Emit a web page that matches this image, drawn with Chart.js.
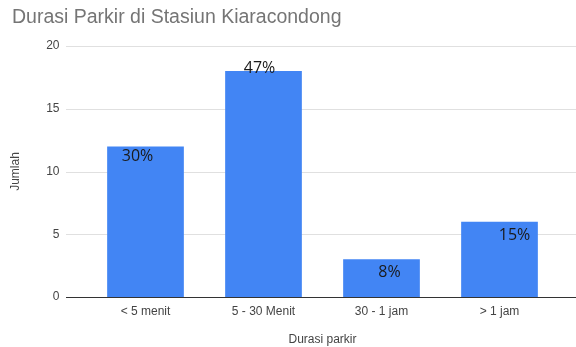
<!DOCTYPE html>
<html>
<head>
<meta charset="utf-8">
<script src="https://cdn.jsdelivr.net/npm/chart.js@4/dist/chart.umd.min.js"></script>
<style>
html,body{margin:0;padding:0;background:#fff;}
#wrap{position:relative;width:576px;height:347px;}
</style>
</head>
<body>
<div id="wrap"><canvas id="c" width="576" height="347"></canvas></div>
<script>
const categories = ["< 5 menit", "5 - 30 Menit", "30 - 1 jam", "> 1 jam"];
const counts = [12, 18, 3, 6];
const percentLabels = ["30%", "47%", "8%", "15%"];
const yTicks = [0, 5, 10, 15, 20];

const gridPlugin = {
  id: 'extGrid',
  beforeDatasetsDraw(chart) {
    const ctx = chart.ctx;
    const y = chart.scales.y;
    const x0 = 66, x1 = chart.width;
    ctx.save();
    yTicks.forEach(v => {
      const py = Math.round(y.getPixelForValue(v)) + 0.5;
      ctx.strokeStyle = v === 0 ? '#333333' : '#e0e0e0';
      ctx.lineWidth = 1;
      ctx.beginPath();
      ctx.moveTo(x0, py);
      ctx.lineTo(x1, py);
      ctx.stroke();
    });
    ctx.restore();
  }
};

const labelPlugin = {
  id: 'pctLabels',
  afterDatasetsDraw(chart, args, opts) {
    const ctx = chart.ctx;
    const meta = chart.getDatasetMeta(0);
    ctx.save();
    ctx.font = '16px "Open Sans", "Noto Sans", sans-serif';
    ctx.fillStyle = '#1a1a1a';
    ctx.textAlign = 'center';
    ctx.textBaseline = 'middle';
    meta.data.forEach((bar, i) => {
      const d = opts.offsets[i];
      ctx.fillText(percentLabels[i], bar.x + d[0], bar.y + d[1]);
    });
    ctx.restore();
  }
};

new Chart(document.getElementById('c'), {
  type: 'bar',
  data: {
    labels: categories,
    datasets: [{
      data: counts,
      backgroundColor: '#4285f4',
      borderWidth: 0,
      categoryPercentage: 1.0,
      barPercentage: 0.65
    }]
  },
  plugins: [gridPlugin, labelPlugin],
  options: {
    responsive: false,
    animation: false,
    layout: { padding: { left: 12, right: 17.5, top: 0, bottom: 0 } },
    plugins: {
      legend: { display: false },
      tooltip: { enabled: false },
      title: {
        display: true,
        text: 'Durasi Parkir di Stasiun Kiaracondong',
        align: 'start',
        color: '#757575',
        font: { family: '"Liberation Sans", Arial, sans-serif', size: 19.5, weight: 'normal' },
        padding: { top: 6, bottom: 16.6 }
      },
      pctLabels: {
        offsets: [[-8, 10], [-4, -3], [8, 13], [15, 14]]
      }
    },
    scales: {
      x: {
        grid: { display: false, drawTicks: false },
        border: { display: false },
        ticks: {
          color: '#444444',
          padding: 7,
          font: { family: '"Liberation Sans", Arial, sans-serif', size: 12 },
          maxRotation: 0
        },
        title: {
          display: true,
          text: 'Durasi parkir',
          color: '#444444',
          font: { family: '"Liberation Sans", Arial, sans-serif', size: 12 },
          padding: { top: 0, bottom: 0 }
        },
        afterFit(s) { s.height = 50; }
      },
      y: {
        min: 0,
        max: 20,
        grid: { display: false, drawTicks: false },
        border: { display: false },
        ticks: {
          stepSize: 5,
          color: '#444444',
          padding: 27,
          font: { family: '"Liberation Sans", Arial, sans-serif', size: 12 }
        },
        title: {
          display: true,
          text: 'Jumlah',
          color: '#444444',
          font: { family: '"Liberation Sans", Arial, sans-serif', size: 12 },
          padding: { top: -4, bottom: 0 }
        },
        afterFit(s) { s.width = 74.5; }
      }
    }
  }
});
</script>
</body>
</html>
